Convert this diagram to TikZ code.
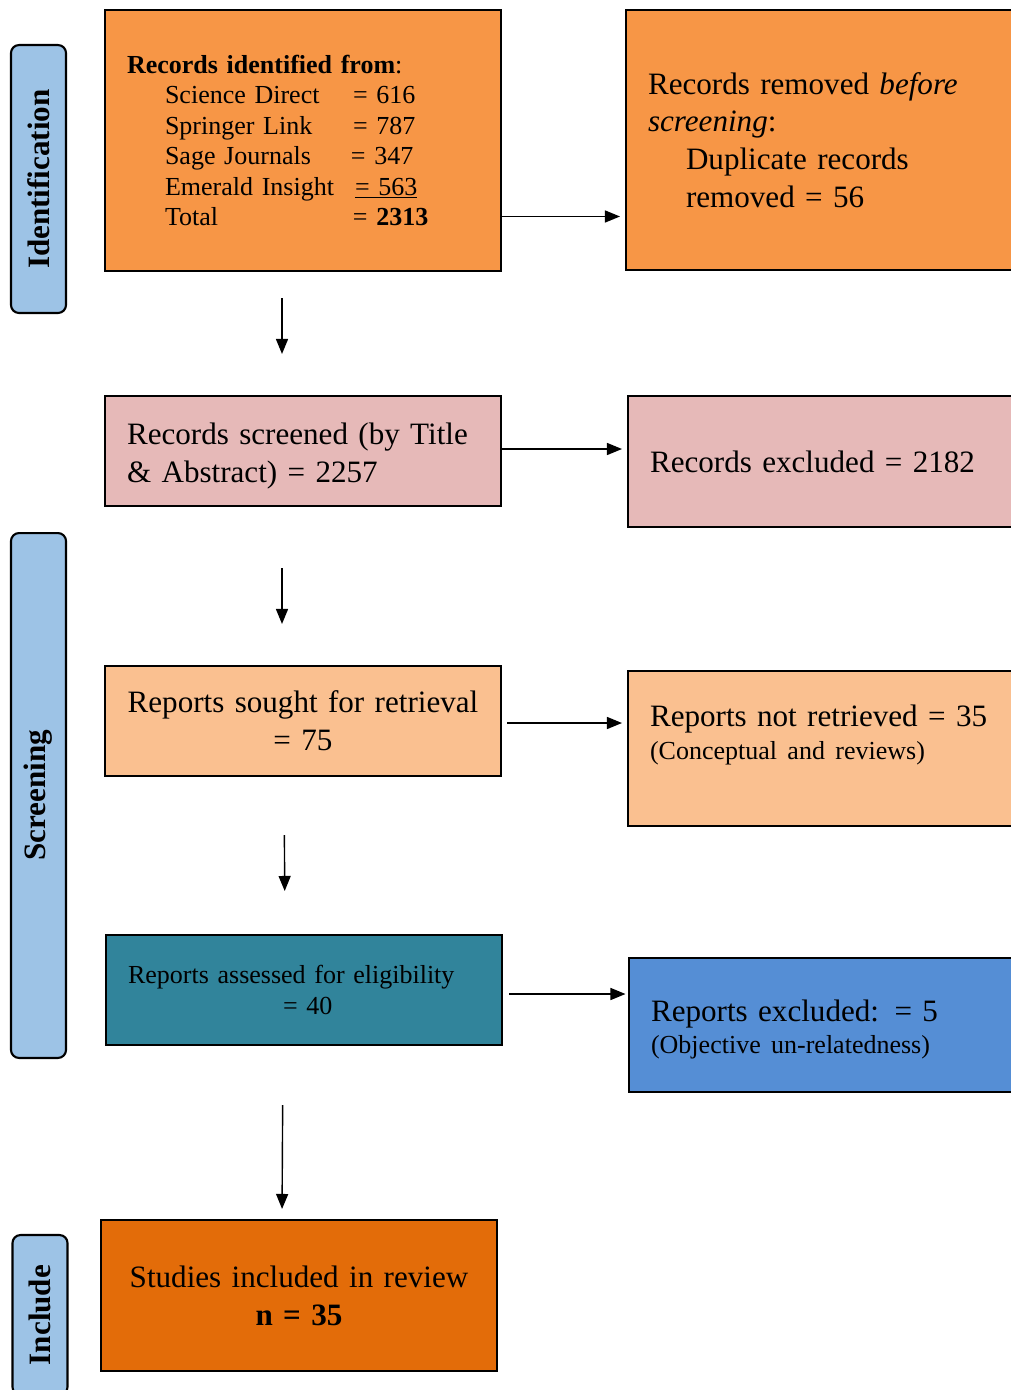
\documentclass[tikz,border=0pt]{standalone}
\usepackage{fontspec}
\setmainfont{Liberation Serif}
\usepackage{tikz}
\usetikzlibrary{arrows.meta, positioning, calc}
\definecolor{idorange}{RGB}{247, 150, 70}
\definecolor{scrpink}{RGB}{230, 185, 184}
\definecolor{retorange}{RGB}{250, 192, 144}
\definecolor{eligteal}{RGB}{49, 132, 155}
\definecolor{exblue}{RGB}{85, 142, 213}
\definecolor{incorange}{RGB}{227, 108, 9}
\definecolor{phaseblue}{RGB}{157, 195, 230}
\newcommand{\bigtxt}{\fontsize{17.7}{21.5}\selectfont}
\newcommand{\smalltxt}{\fontsize{14.8}{17.3}\selectfont}
\newcommand{\srcline}[3]{\hspace*{0.76cm}\makebox[#1][l]{#2}#3}

\begin{document}
\begin{tikzpicture}[x=0.02cm, y=-0.02cm, >=Triangle,
  box/.style={draw, line width=1.2pt, text width=7.04cm, inner xsep=0.44cm, inner ysep=0pt, font=\bigtxt},
  phase/.style={draw, line width=1.2pt, fill=phaseblue, rounded corners=0.16cm, rotate=90, minimum height=1.1cm, inner sep=0pt, font=\bigtxt\bfseries},
  arr/.style={-{Triangle[length=0.3cm, width=0.24cm]}, line width=0.8pt}]
  \useasboundingbox (0,0) rectangle (1011,1390);
  \clip (0,0) rectangle (1011,1390);

  \node[phase, minimum width=5.36cm] (ident) at (38.5,179) {Identification};
  \node[phase, minimum width=10.5cm] (screen) at (38.5,795.5) {Screening};
  \node[phase, minimum width=3.2cm] (incl) at (40,1315) {Include};

  \node[box, fill=idorange, minimum height=5.22cm, align=left, font=\smalltxt] (b1) at (303,140.5)
    {\textbf{Records identified from}:\\
     \srcline{3.76cm}{Science Direct}{= 616}\\
     \srcline{3.76cm}{Springer Link}{= 787}\\
     \srcline{3.72cm}{Sage Journals}{= 347}\\
     \srcline{3.80cm}{Emerald Insight}{\underline{= 563}}\\
     \srcline{3.76cm}{Total}{= \textbf{2313}}};
  \node[box, fill=idorange, minimum height=5.2cm, align=left] (r1) at (824,140)
    {Records removed \textit{before}\\ \textit{screening}:\\
     \hspace*{0.76cm}Duplicate records\\ \hspace*{0.76cm}removed = 56};

  \node[box, fill=scrpink, minimum height=2.2cm, align=left] (b2) at (303,451)
    {\rule{0pt}{0.64cm}Records screened (by Title\\ \& Abstract) = 2257};
  \node[box, fill=scrpink, minimum height=2.62cm, align=left] (r2) at (826,461.5)
    {Records excluded = 2182};

  \node[box, fill=retorange, minimum height=2.2cm, align=center] (b3) at (303,721)
    {Reports sought for retrieval\\ = 75};
  \node[box, fill=retorange, minimum height=3.1cm, align=left] (r3) at (826,748.5)
    {\rule{0pt}{0.52cm}Reports not retrieved = 35\\[-0.1cm] {\smalltxt (Conceptual and reviews)}\\ \mbox{}};

  \node[box, fill=eligteal, minimum height=2.2cm, align=left, font=\smalltxt] (b4) at (304,990)
    {Reports assessed for eligibility\\ \hspace*{3.1cm}= 40};
  \node[box, fill=exblue, minimum height=2.68cm, align=left] (r4) at (827,1025)
    {\rule{0pt}{0.6cm}Reports excluded: = 5\\[-0.12cm] {\smalltxt (Objective un-relatedness)}};

  \node[box, fill=incorange, minimum height=3.02cm, align=center] (b5) at (299,1295.5)
    {Studies included in review\\ \textbf{n = 35}};

  \draw[arr, shorten >=0.1cm] ([yshift=-1.52cm]b1.east) -- ([yshift=-1.52cm]b1.east -| r1.west);
  \draw[arr, shorten >=0.1cm] ([yshift=0.04cm]b2.east) -- ([yshift=0.04cm]b2.east -| r2.west);
  \draw[arr, shorten <=0.1cm, shorten >=0.1cm] ([yshift=-0.04cm]b3.east) -- ([yshift=-0.04cm]b3.east -| r3.west);
  \draw[arr, shorten <=0.12cm, shorten >=0.05cm] ([yshift=-0.08cm]b4.east) -- ([yshift=-0.08cm]b4.east -| r4.west);

  \draw[arr, shorten <=0.52cm, shorten >=0.82cm] ([xshift=-0.42cm]b1.south) -- ([xshift=-0.42cm]b2.north);
  \draw[arr, shorten <=1.22cm, shorten >=0.82cm] ([xshift=-0.42cm]b2.south) -- ([xshift=-0.42cm]b3.north);
  \draw[arr, shorten <=1.16cm, shorten >=0.86cm] ([xshift=-0.38cm]b3.south) -- ([xshift=-0.38cm]b4.north);
  \draw[arr, shorten <=1.18cm, shorten >=0.2cm] ([xshift=-0.42cm]b4.south) -- ([xshift=-0.34cm]b5.north);
\end{tikzpicture}
\end{document}
